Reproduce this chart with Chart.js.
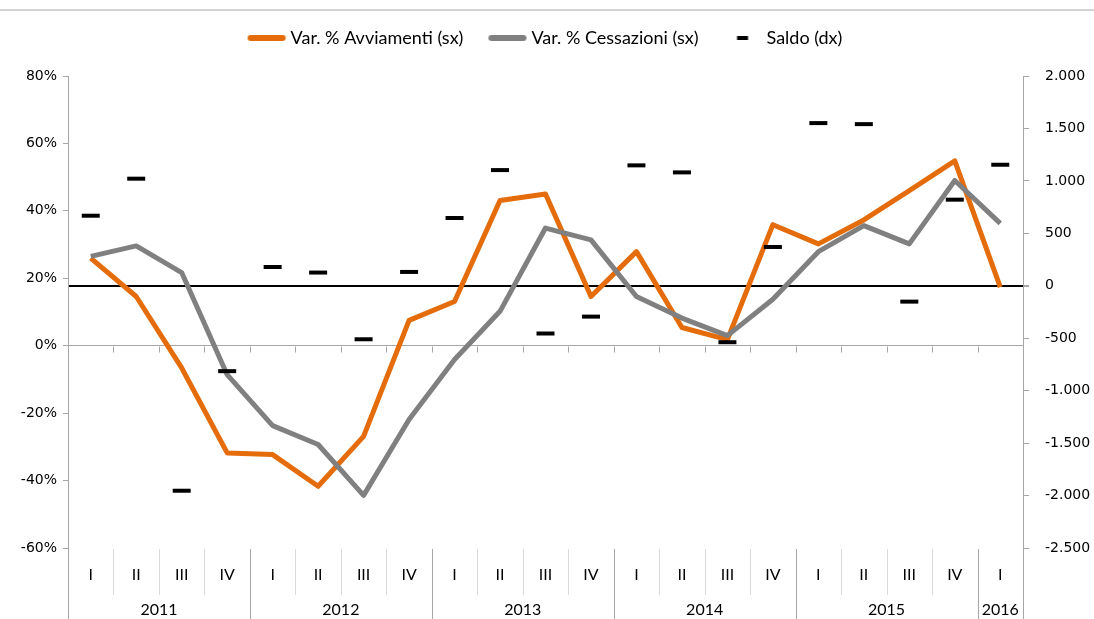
<!DOCTYPE html>
<html><head><meta charset="utf-8">
<script src="https://cdn.jsdelivr.net/npm/chart.js@4.4.0/dist/chart.umd.min.js"></script>
<style>html,body{margin:0;padding:0;background:#fff}#wrap{width:1094px;height:619px;position:relative}</style>
</head><body><div id="wrap"><canvas id="c" width="1094" height="619"></canvas></div>
<script>
// ---- data ----
const quarters = ['I','II','III','IV','I','II','III','IV','I','II','III','IV','I','II','III','IV','I','II','III','IV','I'];
const years = ['2011','2011','2011','2011','2012','2012','2012','2012','2013','2013','2013','2013','2014','2014','2014','2014','2015','2015','2015','2015','2016'];
const avviamenti = [26.0, 14.6, -6.6, -31.8, -32.3, -41.7, -26.9, 7.5, 13.1, 43.1, 45.0, 14.6, 27.9, 5.4, 1.8, 35.9, 30.2, 37.3, 46.0, 54.8, 17.4];
const cessazioni = [26.5, 29.6, 21.7, -8.6, -23.7, -29.3, -44.4, -21.9, -4.1, 10.2, 34.9, 31.4, 14.6, 8.2, 3.0, 13.8, 27.9, 35.6, 30.2, 49.0, 36.3];
const saldo = [668, 1021, -1954, -814, 179, 126, -510, 132, 646, 1103, -455, -294, 1148, 1081, -538, 370, 1551, 1541, -151, 821, 1154];
const leftTicks = [-60, -40, -20, 0, 20, 40, 60, 80];
const leftTickLabels = ['-60%', '-40%', '-20%', '0%', '20%', '40%', '60%', '80%'];
const rightTicks = [-2500, -2000, -1500, -1000, -500, 0, 500, 1000, 1500, 2000];
const rightTickLabels = ['-2.500', '-2.000', '-1.500', '-1.000', '-500', '0', '500', '1.000', '1.500', '2.000'];
const seriesNames = ['Var. % Avviamenti (sx)', 'Var. % Cessazioni (sx)', 'Saldo (dx)'];

const ORANGE = '#E46C0A', GRAY = '#808080';
const AXIS = '#a6a6a6';
const TXT = '#000';

function swatch(w, h, color, lw, len, cap) {
  const c = document.createElement('canvas');
  c.width = w; c.height = h;
  const g = c.getContext('2d');
  g.strokeStyle = color; g.lineWidth = lw; g.lineCap = cap;
  g.beginPath();
  g.moveTo(w / 2 - len / 2, h / 2); g.lineTo(w / 2 + len / 2, h / 2);
  g.stroke();
  return c;
}
const legendImgs = [
  swatch(40, 8, ORANGE, 6, 32, 'round'),
  swatch(40, 8, GRAY, 6, 32, 'round'),
  swatch(40, 8, '#000', 4, 11, 'butt')
];

const decor = {
  id: 'decor',
  beforeDraw(chart) {
    const ctx = chart.ctx;
    ctx.save();
    ctx.fillStyle = '#fff';
    ctx.fillRect(0, 0, chart.width, chart.height);
    ctx.strokeStyle = '#d4d4d4';
    ctx.lineWidth = 2;
    ctx.beginPath(); ctx.moveTo(0, 10); ctx.lineTo(chart.width, 10); ctx.stroke();
    ctx.restore();
  },
  afterDraw(chart) {
    const ctx = chart.ctx, x = chart.scales.x, y = chart.scales.y, area = chart.chartArea;
    const n = quarters.length;
    const bnd = i => i === 0 ? x.left : i === n ? x.right : (x.getPixelForValue(i - 1) + x.getPixelForValue(i)) / 2;
    ctx.save();
    // ticks on the 0% line
    const y0 = Math.round(y.getPixelForValue(0)) + 0.5;
    ctx.strokeStyle = AXIS; ctx.lineWidth = 1;
    ctx.beginPath();
    for (let i = 1; i < n; i++) { const bx = Math.round(bnd(i)) + 0.5; ctx.moveTo(bx, y0); ctx.lineTo(bx, y0 + 6); }
    ctx.stroke();
    // category table separators
    for (let i = 0; i <= n; i++) {
      const bx = Math.round(bnd(i)) + 0.5;
      const isYear = i === 0 || i === n || years[i] !== years[i - 1];
      ctx.strokeStyle = isYear ? AXIS : '#d9d9d9';
      ctx.beginPath();
      ctx.moveTo(bx, area.bottom + (i === 0 || i === n ? 0 : 1));
      ctx.lineTo(bx, isYear ? chart.height : area.bottom + 47);
      ctx.stroke();
    }
    // year labels
    ctx.fillStyle = TXT;
    ctx.font = '16px Lato, "Liberation Sans", sans-serif';
    ctx.textAlign = 'center'; ctx.textBaseline = 'middle';
    let s = 0;
    for (let i = 1; i <= n; i++) {
      if (i === n || years[i] !== years[s]) {
        const cx = (bnd(s) + bnd(i)) / 2;
        ctx.fillText(years[s], cx, 610);
        s = i;
      }
    }
    ctx.restore();
  }
};

new Chart(document.getElementById('c'), {
  type: 'line',
  data: {
    labels: quarters,
    datasets: [
      { label: seriesNames[0], data: avviamenti, yAxisID: 'y', borderColor: ORANGE, backgroundColor: ORANGE, borderWidth: 5, pointRadius: 0, tension: 0, order: 3, borderJoinStyle: 'round' },
      { label: seriesNames[1], data: cessazioni, yAxisID: 'y', borderColor: GRAY, backgroundColor: GRAY, borderWidth: 5, pointRadius: 0, tension: 0, order: 2, borderJoinStyle: 'round' },
      { label: seriesNames[2], data: saldo, yAxisID: 'y1', showLine: false, pointStyle: 'line', pointRadius: 9, pointHoverRadius: 9, pointBorderWidth: 4, borderColor: '#000', backgroundColor: '#000', order: 1 }
    ]
  },
  options: {
    responsive: false, animation: false, devicePixelRatio: 1,
    events: [],
    layout: { padding: 0 },
    plugins: {
      tooltip: { enabled: false },
      title: { display: true, text: ' ', weight: 100, font: { size: 10, lineHeight: 1 }, padding: { top: 0, bottom: 9 }, color: 'rgba(0,0,0,0)' },
      legend: {
        position: 'top', align: 'center',
        labels: {
          usePointStyle: true, pointStyleWidth: 30, padding: 29,
          font: { family: 'Lato, "Liberation Sans", sans-serif', size: 18 }, color: TXT,
          generateLabels: (chart) => chart.data.datasets.map((d, i) => ({
            text: d.label, pointStyle: legendImgs[i], fillStyle: d.borderColor, strokeStyle: d.borderColor,
            lineWidth: 0, hidden: false, datasetIndex: i, fontColor: TXT
          }))
        }
      }
    },
    scales: {
      x: {
        type: 'category', offset: true,
        grid: { display: false, drawTicks: false },
        border: { display: false },
        ticks: { color: TXT, font: { family: 'Lato, "Liberation Sans", sans-serif', size: 16 }, padding: 17, autoSkip: false, maxRotation: 0 },
        afterFit: s => { s.height = 71; }
      },
      y: {
        position: 'left', min: -60, max: 80,
        afterBuildTicks: s => { s.ticks = leftTicks.map(v => ({ value: v })); },
        ticks: { color: TXT, font: { family: '"DejaVu Sans", sans-serif', size: 14 }, padding: 6, callback: (v) => leftTickLabels[leftTicks.indexOf(v)] },
        grid: { color: c => (c.tick && c.tick.value === 0) ? AXIS : 'rgba(0,0,0,0)', tickColor: AXIS, tickLength: 5, drawTicks: true },
        border: { color: AXIS },
        afterFit: s => { s.width = 68; }
      },
      y1: {
        position: 'right', min: -2500, max: 2000,
        afterBuildTicks: s => { s.ticks = rightTicks.map(v => ({ value: v })); },
        ticks: { color: TXT, font: { family: '"DejaVu Sans", sans-serif', size: 14 }, padding: 16, callback: (v) => rightTickLabels[rightTicks.indexOf(v)] },
        grid: { color: c => (c.tick && c.tick.value === 0) ? '#000' : 'rgba(0,0,0,0)', lineWidth: c => (c.tick && c.tick.value === 0) ? 2 : 1, tickColor: AXIS, tickLength: 6, drawTicks: true },
        border: { color: AXIS },
        afterFit: s => { s.width = 71; }
      }
    }
  },
  plugins: [decor]
});
</script>
</body></html>
